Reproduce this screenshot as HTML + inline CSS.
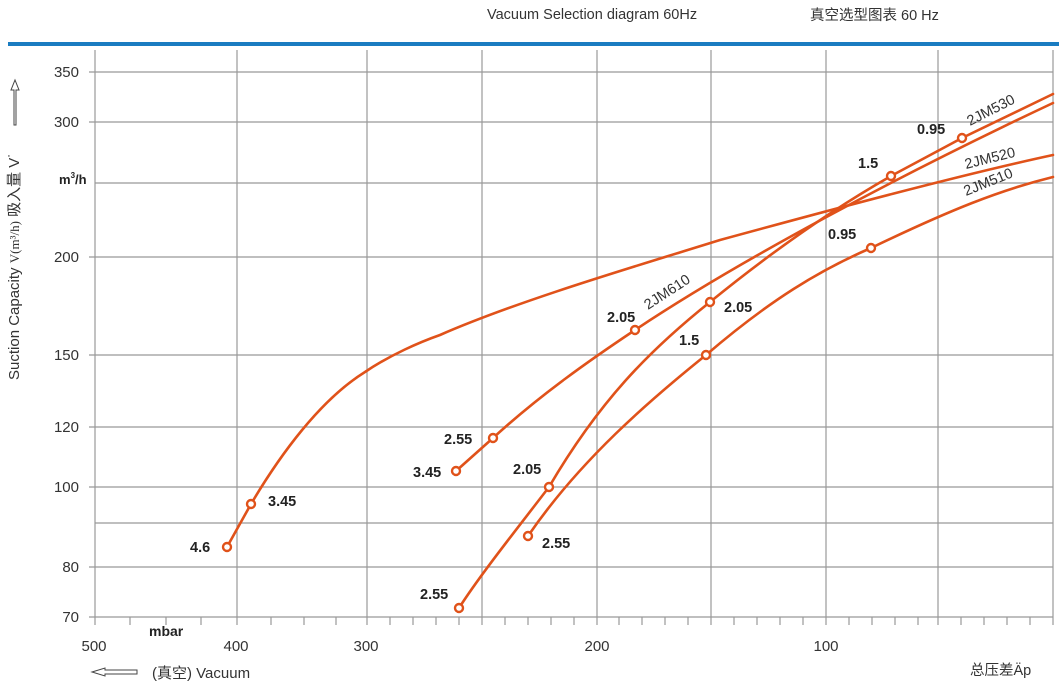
<!DOCTYPE html>
<html><head><meta charset="utf-8"><style>
body{margin:0;background:#fff;}
svg{display:block;font-family:"Liberation Sans","Noto Sans CJK SC",sans-serif;}
</style></head><body>
<svg width="1059" height="690" viewBox="0 0 1059 690">
<text x="487" y="19" font-size="14.5" fill="#333">Vacuum Selection diagram 60Hz</text>
<text x="810" y="20" font-size="14.5" fill="#333">真空选型图表 60 Hz</text>
<rect x="8" y="42" width="1051" height="4" fill="#1a7cc1"/>
<g stroke="#999" stroke-width="1.2" fill="none">
<path d="M95 50V625M237 50V625M367 50V625M482 50V625M597 50V625M711 50V625M826 50V625M938 50V625M1053 50V625"/>
<path d="M89 72H1053M89 122H1053M95 183H1053M89 257H1053M89 355H1053M89 427H1053M89 487H1053M95 523H1053M89 567H1053M89 617H1053"/>
<path d="M130 617v8M166 617v8M201 617v8M271 617v8M304 617v8M336 617v8M390 617v8M413 617v8M436 617v8M459 617v8M505 617v8M528 617v8M551 617v8M574 617v8M619 617v8M642 617v8M665 617v8M688 617v8M734 617v8M757 617v8M780 617v8M803 617v8M849 617v8M872 617v8M895 617v8M918 617v8M961 617v8M984 617v8M1007 617v8M1030 617v8"/>
</g>
<g font-size="15" fill="#333" text-anchor="end">
<text x="79" y="77">350</text><text x="79" y="127">300</text><text x="79" y="262">200</text>
<text x="79" y="360">150</text><text x="79" y="432">120</text><text x="79" y="492">100</text>
<text x="79" y="572">80</text><text x="79" y="622">70</text>
</g>
<text x="59" y="184" font-size="13" font-weight="bold" fill="#222">m<tspan font-size="8" dy="-6">3</tspan><tspan dy="6">/h</tspan></text>
<g font-size="15" fill="#333" text-anchor="middle">
<text x="94" y="651">500</text><text x="236" y="651">400</text><text x="366" y="651">300</text>
<text x="597" y="651">200</text><text x="826" y="651">100</text>
</g>
<text x="149" y="636" font-size="14" font-weight="bold" fill="#222">mbar</text>
<text x="152" y="678" font-size="15" fill="#333">(真空)  Vacuum</text>
<path d="M92 672 L105 668 V670 H137 V674 H105 V676 Z" fill="none" stroke="#444" stroke-width="1"/>
<text x="970" y="675" font-size="14.5" fill="#333">总压差Äp</text>
<g transform="translate(19,380) rotate(-90)">
<text x="0" y="0" font-size="15" fill="#333">Suction Capacity <tspan font-family="Liberation Serif" font-size="13">V(m³/h)</tspan> 吸入量 V˙</text>
<path d="M255 -5 H290 V-8 L300 -4 L290 0 V-3 H255 Z" fill="none" stroke="#444" stroke-width="1"/>
</g>
<g stroke="#e0521a" stroke-width="2.6" fill="none" stroke-linecap="round">
<path d="M227 547 L251 504 C280 455 320 400 365 372 C390 355 420 342 440 335 C520 300 640 265 720 240 C830 210 960 175 1053 155"/>
<path d="M456 471 L493 438 C540 395 590 360 635 330 C740 260 900 175 1053 103"/>
<path d="M459 608 C480 575 520 525 549 487 C600 400 650 350 710 302 C780 245 840 205 891 176 L962 138 L1053 94"/>
<path d="M528 536 C580 460 650 400 706 355 C770 300 820 270 871 248 C950 210 1000 190 1053 177"/>
</g>
<g stroke="#e0521a" stroke-width="2.4" fill="#fff">
<circle cx="227" cy="547" r="4"/><circle cx="251" cy="504" r="4"/>
<circle cx="456" cy="471" r="4"/><circle cx="493" cy="438" r="4"/><circle cx="635" cy="330" r="4"/>
<circle cx="459" cy="608" r="4"/><circle cx="549" cy="487" r="4"/><circle cx="710" cy="302" r="4"/>
<circle cx="891" cy="176" r="4"/><circle cx="962" cy="138" r="4"/>
<circle cx="528" cy="536" r="4"/><circle cx="706" cy="355" r="4"/><circle cx="871" cy="248" r="4"/>
</g>
<g font-size="14.5" font-weight="bold" fill="#222">
<text x="190" y="552">4.6</text><text x="268" y="506">3.45</text>
<text x="413" y="477">3.45</text><text x="444" y="444">2.55</text><text x="607" y="322">2.05</text>
<text x="420" y="599">2.55</text><text x="513" y="474">2.05</text><text x="724" y="312">2.05</text>
<text x="858" y="168">1.5</text><text x="917" y="134">0.95</text>
<text x="542" y="548">2.55</text><text x="679" y="345">1.5</text><text x="828" y="239">0.95</text>
</g>
<g font-size="14.5" fill="#333">
<text transform="translate(648,310) rotate(-33)">2JM610</text>
<text transform="translate(970,126) rotate(-27)">2JM530</text>
<text transform="translate(966,169) rotate(-14)">2JM520</text>
<text transform="translate(966,196) rotate(-22)">2JM510</text>
</g>
</svg>
</body></html>
